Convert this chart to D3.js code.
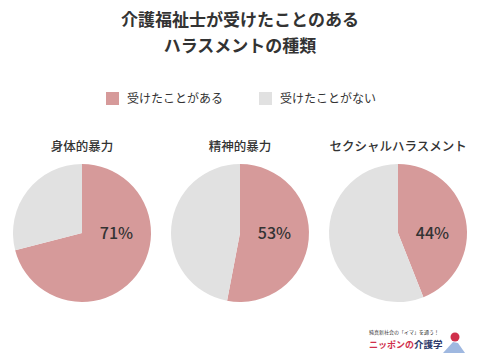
<!DOCTYPE html>
<html>
<head>
<meta charset="utf-8">
<script src="https://cdn.jsdelivr.net/npm/d3@7"></script>
<style>
  body { margin: 0; background: #fff; }
  svg { display: block; font-family: "Noto Sans CJK JP", "Noto Sans", sans-serif; }
</style>
</head>
<body>
<svg id="chart" width="480" height="360"></svg>
<script>
"use strict";

var titleLines = ["介護福祉士が受けたことのある", "ハラスメントの種類"];
var categories = ["身体的暴力", "精神的暴力", "セクシャルハラスメント"];
var experienced = [71, 53, 44];
var seriesNames = ["受けたことがある", "受けたことがない"];
var colors = ["#d69a9a", "#e1e1e1"];

var svg = d3.select("#chart");

// title
svg.append("g")
    .selectAll("text")
    .data(titleLines)
    .join("text")
    .attr("x", 240)
    .attr("y", function(d, i) { return 26 + i * 26; })
    .attr("text-anchor", "middle")
    .attr("font-size", 17)
    .attr("font-weight", "bold")
    .attr("fill", "#333")
    .text(function(d) { return d; });

// legend
var legend = svg.append("g")
    .selectAll("g")
    .data(seriesNames)
    .join("g")
    .attr("transform", function(d, i) { return "translate(" + (106 + i * 153) + ",92)"; });

legend.append("rect")
    .attr("width", 13)
    .attr("height", 13)
    .attr("fill", function(d, i) { return colors[i]; });

legend.append("text")
    .attr("x", 21)
    .attr("y", 11)
    .attr("font-size", 12)
    .attr("fill", "#333")
    .text(function(d) { return d; });

// pies
var x = d3.scalePoint().domain(categories).range([82, 398]);
var radius = 69;
var pie = d3.pie().sort(null).value(function(d) { return d; });
var arc = d3.arc().innerRadius(0).outerRadius(radius);

var groups = svg.append("g")
    .selectAll("g")
    .data(categories)
    .join("g")
    .attr("transform", function(d) { return "translate(" + x(d) + ",233)"; });

groups.append("text")
    .attr("y", -82)
    .attr("text-anchor", "middle")
    .attr("font-size", 12.5)
    .attr("font-weight", 500)
    .attr("fill", "#333")
    .text(function(d) { return d; });

groups.selectAll("path")
    .data(function(d, i) { return pie([experienced[i], 100 - experienced[i]]); })
    .join("path")
    .attr("d", arc)
    .attr("fill", function(d, i) { return colors[i]; });

groups.append("text")
    .attr("x", radius * 0.5)
    .attr("y", 6)
    .attr("text-anchor", "middle")
    .attr("font-size", 16)
    .attr("font-weight", 500)
    .attr("fill", "#333")
    .text(function(d, i) { return experienced[i] + "%"; });

// logo
var logo = svg.append("g").attr("transform", "translate(369,340)");
logo.append("text")
    .attr("x", 0)
    .attr("y", -6)
    .attr("font-size", 5)
    .attr("fill", "#333")
    .text("純真新社会の「イマ」を通う！");
logo.append("text")
    .attr("x", 0)
    .attr("y", 8)
    .attr("font-size", 9)
    .attr("font-weight", "bold")
    .attr("fill", "#d0304c")
    .text("ニッポンの");
logo.append("text")
    .attr("x", 45)
    .attr("y", 8)
    .attr("font-size", 9.5)
    .attr("font-weight", "bold")
    .attr("fill", "#2d3a6b")
    .text("介護学");
logo.append("path")
    .attr("d", "M74,13 L84,2 L89,3 L96,13 Z")
    .attr("fill", "#9fb8e0");
logo.append("circle")
    .attr("cx", 86)
    .attr("cy", -3)
    .attr("r", 4.5)
    .attr("fill", "#d0304c");
</script>
</body>
</html>
